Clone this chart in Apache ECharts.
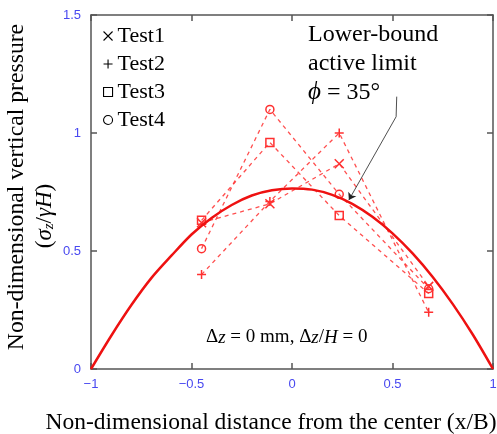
<!DOCTYPE html>
<html><head><meta charset="utf-8">
<script src="https://cdn.jsdelivr.net/npm/echarts@6/dist/echarts.min.js"></script>
<style>html,body{margin:0;padding:0;background:#fff}#c{width:497px;height:434px}</style>
</head><body><div id="c"></div>
<script>
// ---- data ----
const xPositions = [-0.45, -0.11, 0.235, 0.68];
const test1 = [0.62, 0.70, 0.87, 0.35];
const test2 = [0.40, 0.71, 1.00, 0.24];
const test3 = [0.63, 0.96, 0.65, 0.32];
const test4 = [0.51, 1.10, 0.74, 0.34];
const curveX = [-1, -0.9, -0.8, -0.7, -0.6, -0.5, -0.4, -0.3, -0.2, -0.1, 0, 0.1, 0.2, 0.3, 0.4, 0.5, 0.6, 0.7, 0.8, 0.9, 1];
const curveY = [0, 0.14, 0.27, 0.385, 0.48, 0.57, 0.64, 0.695, 0.735, 0.757, 0.765, 0.76, 0.738, 0.70, 0.645, 0.575, 0.49, 0.39, 0.275, 0.145, 0];
const xTicks = [-1, -0.5, 0, 0.5, 1];
const yTicks = [0, 0.5, 1, 1.5];
const testNames = ['Test1', 'Test2', 'Test3', 'Test4'];
const arrowPath = [[0.521, 1.154], [0.518, 1.069], [0.283, 0.716]];

const serif = 'Liberation Serif';
const red = '#ff3030';
const symX = 'path://M0,0L10,10M10,0L0,10';
const symPlus = 'path://M5,0L5,10M0,5L10,5';
const symbols = [symX, symPlus, 'rect', 'circle'];
const tests = [test1, test2, test3, test4];
const fmt = v => String(v).replace('-', '\u2212');

const chart = echarts.init(document.getElementById('c'), null, {renderer: 'canvas'});

const testSeries = tests.map((vals, i) => ({
  name: testNames[i],
  type: 'line',
  data: xPositions.map((x, j) => [x, vals[j]]),
  symbol: symbols[i],
  symbolSize: i < 2 ? 9 : 8,
  showAllSymbol: true,
  lineStyle: {color: red, width: 1.3, type: [4, 4], opacity: 0.85},
  itemStyle: {color: 'transparent', borderColor: red, borderWidth: 1.5},
  z: 3
}));

const axisLineStyle = {color: '#555', width: 1.5};

const option = {
  animation: false,
  backgroundColor: '#fff',
  grid: {left: 91, right: 4, top: 15, bottom: 65, containLabel: false, outerBoundsMode: 'none'},
  xAxis: [{
    type: 'value', min: xTicks[0], max: xTicks[xTicks.length - 1], interval: 0.5,
    axisLine: {show: true, onZero: false, lineStyle: axisLineStyle},
    axisTick: {show: true, inside: true, length: 6, lineStyle: axisLineStyle},
    axisLabel: {color: '#4848f0', fontFamily: 'Liberation Sans', fontSize: 13, margin: 9, formatter: fmt},
    splitLine: {show: false},
    name: 'Non-dimensional distance from the center (x/B)',
    nameLocation: 'middle', nameGap: 42,
    nameTextStyle: {fontFamily: serif, fontSize: 23.5, color: '#000', padding: [0, 42, 0, 0]}
  }, {
    type: 'value', position: 'top', min: xTicks[0], max: xTicks[xTicks.length - 1], interval: 0.5,
    axisLine: {show: true, onZero: false, lineStyle: axisLineStyle},
    axisTick: {show: true, inside: true, length: 6, lineStyle: axisLineStyle},
    axisLabel: {show: false}, splitLine: {show: false}
  }],
  yAxis: [{
    type: 'value', min: yTicks[0], max: yTicks[yTicks.length - 1], interval: 0.5,
    axisLine: {show: true, onZero: false, lineStyle: axisLineStyle},
    axisTick: {show: true, inside: true, length: 6, lineStyle: axisLineStyle},
    axisLabel: {color: '#4848f0', fontFamily: 'Liberation Sans', fontSize: 13, margin: 10, formatter: fmt},
    splitLine: {show: false},
    name: 'Non-dimensional vertical pressure',
    nameLocation: 'middle', nameRotate: 90, nameGap: 61,
    nameTextStyle: {fontFamily: serif, fontSize: 23.7, color: '#000', lineHeight: 26, padding: [0, 0, 0, 10]}
  }, {
    type: 'value', position: 'right', min: yTicks[0], max: yTicks[yTicks.length - 1], interval: 0.5,
    axisLine: {show: true, onZero: false, lineStyle: axisLineStyle},
    axisTick: {show: true, inside: true, length: 6, lineStyle: axisLineStyle},
    axisLabel: {show: false}, splitLine: {show: false}
  }],
  legend: {
    orient: 'vertical', left: 98, top: 20, itemGap: 6, itemWidth: 9, itemHeight: 9,
    textStyle: {fontFamily: serif, fontSize: 22, color: '#000', padding: [0, 0, 0, 0]},
    data: testNames.map((n, i) => ({
      name: n, icon: symbols[i],
      itemStyle: {color: 'transparent', borderColor: '#000', borderWidth: 1.1}
    }))
  },
  series: [
    {
      name: 'Lower-bound active limit', type: 'line',
      data: curveX.map((x, i) => [x, curveY[i]]),
      smooth: 0.3, symbol: 'none',
      lineStyle: {color: '#ee1111', width: 2.5}, z: 4
    },
    ...testSeries,
    {
      name: 'arrow', type: 'line', data: [], symbol: 'none',
      markLine: {
        silent: true, symbol: ['none', 'none'],
        lineStyle: {color: '#222', width: 0.8, type: 'solid'},
        label: {show: false},
        data: [
          [{coord: arrowPath[0]}, {coord: arrowPath[1]}],
          [{coord: arrowPath[1]}, {coord: arrowPath[2], symbol: 'arrow', symbolSize: 7}]
        ]
      }
    }
  ],
  graphic: [
    {
      type: 'text', x: 45, y: 216, rotation: Math.PI / 2,
      style: {
        text: '({i|σ}{sub|z}/{i|γH})', align: 'center', verticalAlign: 'middle',
        font: '23px "Liberation Serif"', fill: '#000',
        rich: {
          i: {fontFamily: serif, fontStyle: 'italic', fontSize: 23, fill: '#000'},
          sub: {fontFamily: serif, fontStyle: 'italic', fontSize: 15, fill: '#000', padding: [9, 0, 0, 0]}
        }
      }
    },
    {
      type: 'text', left: 308, top: 20,
      style: {
        text: 'Lower-bound\nactive limit\n{i|ϕ} = 35°',
        font: '24px "Liberation Serif"', fill: '#000', lineHeight: 29,
        rich: {i: {fontFamily: serif, fontStyle: 'italic', fontSize: 25, fill: '#000', lineHeight: 29}}
      }
    },
    {
      type: 'text', left: 206, top: 328,
      style: {
        text: 'Δ{i|z} = 0 mm, Δ{i|z}/{i|H} = 0',
        font: '19px "Liberation Serif"', fill: '#000',
        rich: {i: {fontFamily: serif, fontStyle: 'italic', fontSize: 19, fill: '#000'}}
      }
    }
  ]
};
chart.setOption(option);
</script></body></html>
